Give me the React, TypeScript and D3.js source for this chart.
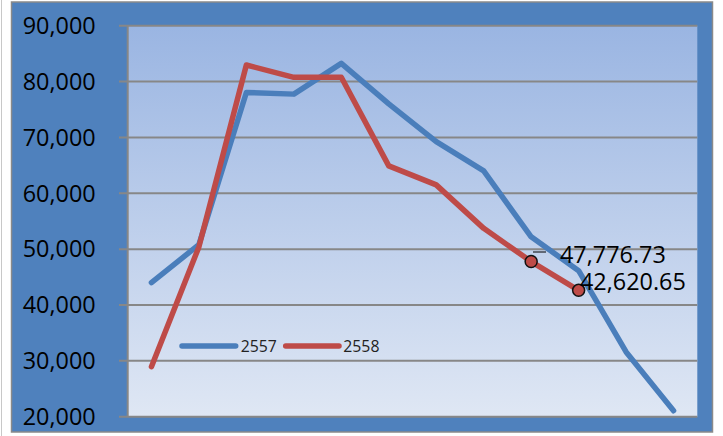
import React from "react";
import * as d3 from "d3";

const months = ["ม.ค.", "ก.พ.", "มี.ค.", "เม.ย.", "พ.ค.", "มิ.ย.", "ก.ค.", "ส.ค.", "ก.ย.", "ต.ค.", "พ.ย.", "ธ.ค."];
const series2557 = [44000, 50800, 78050, 77750, 83250, 76000, 69230, 64000, 52200, 46140, 31600, 21070];
const series2558 = [28950, 50400, 82960, 80760, 80760, 64900, 61500, 53720, 47776.73, 42620.65];
const yTicks = [20000, 30000, 40000, 50000, 60000, 70000, 80000, 90000];
const labelledPoints = [8, 9];

const W = 723;
const H = 436;
const plot = { left: 127.7, right: 697.3, top: 25.7, bottom: 416.7 };
const BLUE = "#4A7EBB";
const RED = "#BE4B48";
const FONT = "'Open Sans', 'Liberation Sans', sans-serif";

export default function App() {
  const x = d3.scaleBand<string>().domain(months).range([plot.left, plot.right]);
  const y = d3.scaleLinear().domain([20000, 90000]).range([plot.bottom, plot.top]);
  const cx = (i: number) => (x(months[i]) as number) + x.bandwidth() / 2;
  const line = d3
    .line<number>()
    .x((_, i) => cx(i))
    .y((d) => y(d));
  const fmt = d3.format(",.2f");
  const tickFmt = d3.format(",");

  return (
    <svg
      width={W}
      height={H}
      style={{ position: "absolute", left: 0, top: 0, display: "block" }}
    >
      <defs>
        <linearGradient id="plotGrad" x1="0" y1="0" x2="0" y2="1">
          <stop offset="0" stopColor="#9AB5E2" />
          <stop offset="1" stopColor="#DFE7F4" />
        </linearGradient>
      </defs>
      <rect x={0} y={0} width={W} height={H} fill="#ffffff" />
      <line x1={1.5} y1={0} x2={1.5} y2={H} stroke="#c8c8c8" strokeWidth={1} />
      {/* outer frame */}
      <rect x={11.5} y={2} width={701} height={430} fill="#4F81BD" stroke="#8a8a8a" strokeWidth={1.5} />
      {/* plot area */}
      <rect
        x={plot.left}
        y={plot.top}
        width={plot.right - plot.left}
        height={plot.bottom - plot.top}
        fill="url(#plotGrad)"
      />
      {/* gridlines */}
      {yTicks.map((t) => (
        <line
          key={"g" + t}
          x1={119}
          x2={plot.right}
          y1={y(t)}
          y2={y(t)}
          stroke="#878787"
          strokeWidth={2}
        />
      ))}
      <line x1={plot.left} x2={plot.left} y1={plot.top} y2={plot.bottom} stroke="#878787" strokeWidth={2} />
      {/* tick labels */}
      {yTicks.map((t) => (
        <text
          key={"t" + t}
          x={95.7}
          y={y(t) + 8.3}
          textAnchor="end"
          fontFamily={FONT}
          fontSize={23.4}
          fill="#000"
        >
          {tickFmt(t)}
        </text>
      ))}
      {/* lines */}
      <path d={line(series2557) || ""} fill="none" stroke={BLUE} strokeWidth={5.5} strokeLinecap="round" strokeLinejoin="round" />
      <path d={line(series2558) || ""} fill="none" stroke={RED} strokeWidth={5.5} strokeLinecap="round" strokeLinejoin="round" />
      {/* legend */}
      <line x1={182} x2={235.7} y1={346} y2={346} stroke={BLUE} strokeWidth={5.5} strokeLinecap="round" />
      <text x={240.7} y={352} fontFamily={FONT} fontSize={15.8} fill="#222">2557</text>
      <line x1={285.7} x2={339} y1={346} y2={346} stroke={RED} strokeWidth={5.5} strokeLinecap="round" />
      <text x={343.3} y={352} fontFamily={FONT} fontSize={15.8} fill="#222">2558</text>
      {/* markers and data labels */}
      <line x1={533} x2={546} y1={252} y2={252} stroke="#000" strokeWidth={1} />
      {labelledPoints.map((i, k) => (
        <g key={"m" + i}>
          <circle cx={cx(i)} cy={y(series2558[i])} r={6} fill={RED} stroke="#111" strokeWidth={1.5} />
          <text
            x={k === 0 ? 560 : 580}
            y={y(series2558[i]) + (k === 0 ? 1.2 : -0.5)}
            fontFamily={FONT}
            fontSize={23.4}
            fill="#000"
          >
            {fmt(series2558[i])}
          </text>
        </g>
      ))}
    </svg>
  );
}
